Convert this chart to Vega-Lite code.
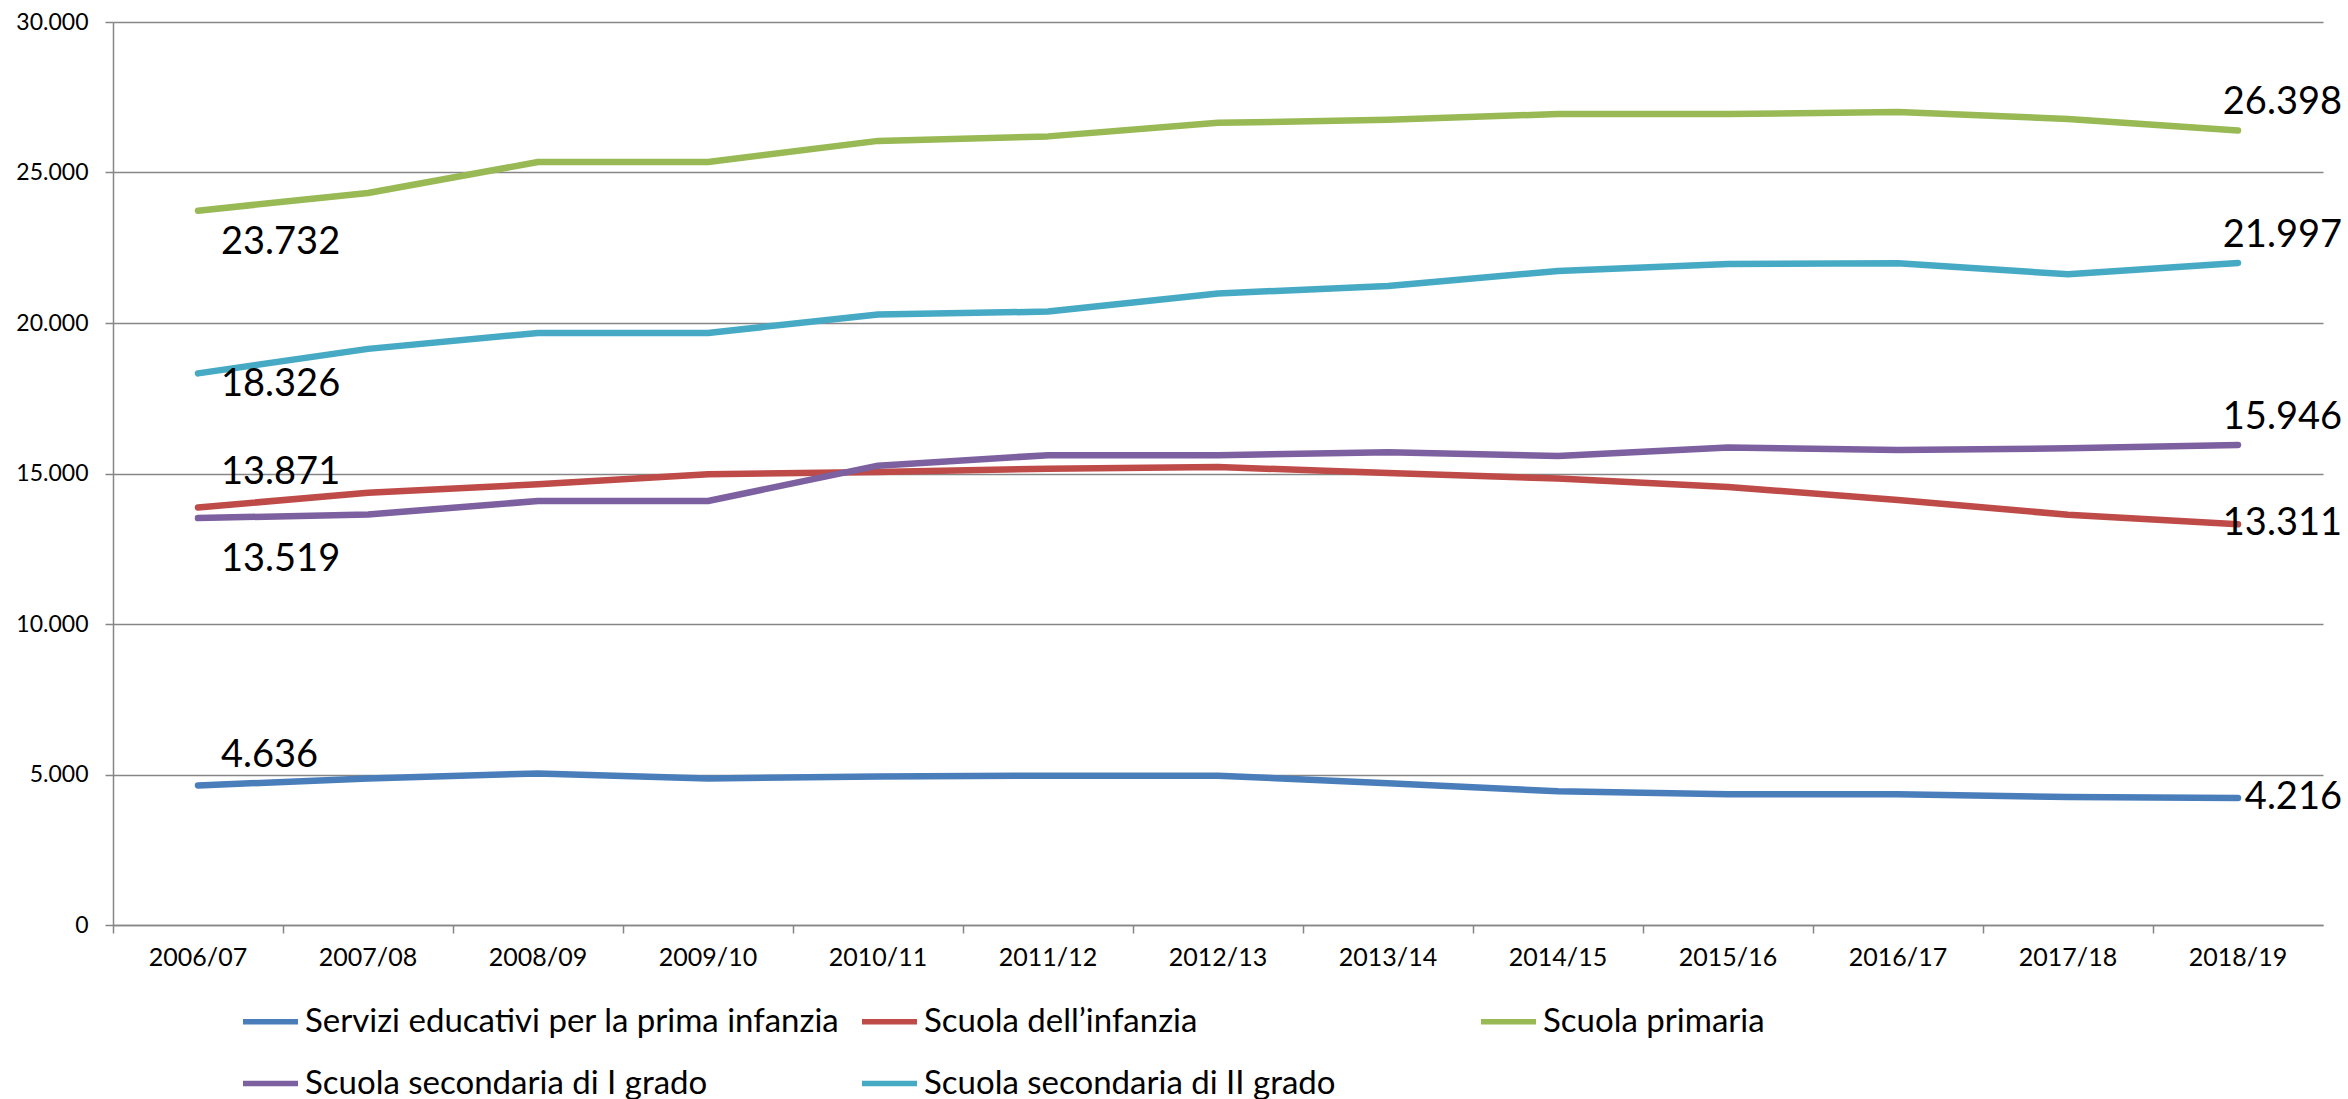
{
 "$schema": "https://vega.github.io/schema/vega-lite/v6.json",
 "width": 2210,
 "height": 903,
 "autosize": {"type": "none"},
 "padding": {"left": 113, "top": 22, "right": 25, "bottom": 174},
 "background": "white",
 "config": {
  "font": "Lato",
  "view": {"stroke": null},
  "locale": {"number": {"decimal": ",", "thousands": ".", "grouping": [3], "currency": ["", " €"]}}
 },
 "data": {"values": [
  {"year": "2006/07", "Servizi educativi per la prima infanzia": 4636, "Scuola dell’infanzia": 13871, "Scuola primaria": 23732, "Scuola secondaria di I grado": 13519, "Scuola secondaria di II grado": 18326},
  {"year": "2007/08", "Servizi educativi per la prima infanzia": 4870, "Scuola dell’infanzia": 14360, "Scuola primaria": 24319, "Scuola secondaria di I grado": 13640, "Scuola secondaria di II grado": 19140},
  {"year": "2008/09", "Servizi educativi per la prima infanzia": 5036, "Scuola dell’infanzia": 14640, "Scuola primaria": 25350, "Scuola secondaria di I grado": 14086, "Scuola secondaria di II grado": 19670},
  {"year": "2009/10", "Servizi educativi per la prima infanzia": 4870, "Scuola dell’infanzia": 14973, "Scuola primaria": 25350, "Scuola secondaria di I grado": 14086, "Scuola secondaria di II grado": 19670},
  {"year": "2010/11", "Servizi educativi per la prima infanzia": 4930, "Scuola dell’infanzia": 15050, "Scuola primaria": 26050, "Scuola secondaria di I grado": 15260, "Scuola secondaria di II grado": 20280},
  {"year": "2011/12", "Servizi educativi per la prima infanzia": 4960, "Scuola dell’infanzia": 15160, "Scuola primaria": 26200, "Scuola secondaria di I grado": 15610, "Scuola secondaria di II grado": 20380},
  {"year": "2012/13", "Servizi educativi per la prima infanzia": 4960, "Scuola dell’infanzia": 15215, "Scuola primaria": 26650, "Scuola secondaria di I grado": 15610, "Scuola secondaria di II grado": 20980},
  {"year": "2013/14", "Servizi educativi per la prima infanzia": 4710, "Scuola dell’infanzia": 15015, "Scuola primaria": 26750, "Scuola secondaria di I grado": 15710, "Scuola secondaria di II grado": 21230},
  {"year": "2014/15", "Servizi educativi per la prima infanzia": 4440, "Scuola dell’infanzia": 14830, "Scuola primaria": 26944, "Scuola secondaria di I grado": 15580, "Scuola secondaria di II grado": 21728},
  {"year": "2015/16", "Servizi educativi per la prima infanzia": 4340, "Scuola dell’infanzia": 14550, "Scuola primaria": 26944, "Scuola secondaria di I grado": 15860, "Scuola secondaria di II grado": 21960},
  {"year": "2016/17", "Servizi educativi per la prima infanzia": 4340, "Scuola dell’infanzia": 14120, "Scuola primaria": 27010, "Scuola secondaria di I grado": 15780, "Scuola secondaria di II grado": 21984},
  {"year": "2017/18", "Servizi educativi per la prima infanzia": 4250, "Scuola dell’infanzia": 13630, "Scuola primaria": 26777, "Scuola secondaria di I grado": 15835, "Scuola secondaria di II grado": 21618},
  {"year": "2018/19", "Servizi educativi per la prima infanzia": 4216, "Scuola dell’infanzia": 13311, "Scuola primaria": 26398, "Scuola secondaria di I grado": 15946, "Scuola secondaria di II grado": 21997}
 ]},
 "transform": [
  {"fold": ["Servizi educativi per la prima infanzia", "Scuola dell’infanzia", "Scuola primaria", "Scuola secondaria di I grado", "Scuola secondaria di II grado"], "as": ["series", "value"]}
 ],
 "encoding": {
  "x": {
   "field": "year", "type": "ordinal", "bandPosition": 0.5,
   "scale": {"type": "band", "paddingInner": 0, "paddingOuter": 0},
   "axis": {"title": null, "bandPosition": 0, "grid": false, "labelAngle": 0, "domainColor": "#868686", "domainWidth": 1.5, "tickColor": "#868686", "tickWidth": 1.5, "tickSize": 8, "labelFontSize": 25, "labelColor": "#000000", "labelPadding": 12}
  },
  "y": {
   "field": "value", "type": "quantitative",
   "scale": {"domain": [0, 30000]},
   "axis": {"title": null, "values": [0, 5000, 10000, 15000, 20000, 25000, 30000], "format": ",d", "grid": true, "gridColor": "#868686", "gridWidth": 1.5, "domainColor": "#868686", "domainWidth": 1.5, "tickColor": "#868686", "tickWidth": 1.5, "tickSize": 8, "labelFontSize": 23, "labelColor": "#000000", "labelPadding": 17}
  }
 },
 "layer": [
  {
   "mark": {"type": "line", "strokeWidth": 6.5, "strokeCap": "round", "strokeJoin": "round"},
   "encoding": {
    "color": {
     "field": "series", "type": "nominal",
     "scale": {"domain": ["Servizi educativi per la prima infanzia", "Scuola dell’infanzia", "Scuola primaria", "Scuola secondaria di I grado", "Scuola secondaria di II grado"], "range": ["#4A7EBB", "#BE4B48", "#98B954", "#7D60A0", "#46AAC5"]},
     "legend": {"title": null, "orient": "none", "legendX": 127, "legendY": 969, "direction": "horizontal", "columns": 3, "gridAlign": "all", "symbolType": "stroke", "symbolSize": 3025, "symbolStrokeWidth": 5.5, "labelFontSize": 33, "labelColor": "#000000", "labelOffset": 4, "columnPadding": 11, "rowPadding": 14, "labelLimit": 0}
    }
   }
  },
  {
   "transform": [{"filter": "datum.year == '2006/07' && datum.series == 'Scuola primaria'"}],
   "mark": {"type": "text", "align": "left", "baseline": "middle", "dx": 23, "dy": 32, "fontSize": 38, "color": "#000000"},
   "encoding": {"text": {"field": "value", "type": "quantitative", "format": ",d"}}
  },
  {
   "transform": [{"filter": "datum.year == '2006/07' && datum.series == 'Scuola secondaria di II grado'"}],
   "mark": {"type": "text", "align": "left", "baseline": "middle", "dx": 23, "dy": 12, "fontSize": 38, "color": "#000000"},
   "encoding": {"text": {"field": "value", "type": "quantitative", "format": ",d"}}
  },
  {
   "transform": [{"filter": "datum.year == '2006/07' && datum.series == 'Scuola dell’infanzia'"}],
   "mark": {"type": "text", "align": "left", "baseline": "middle", "dx": 23, "dy": -34, "fontSize": 38, "color": "#000000"},
   "encoding": {"text": {"field": "value", "type": "quantitative", "format": ",d"}}
  },
  {
   "transform": [{"filter": "datum.year == '2006/07' && datum.series == 'Scuola secondaria di I grado'"}],
   "mark": {"type": "text", "align": "left", "baseline": "middle", "dx": 23, "dy": 42, "fontSize": 38, "color": "#000000"},
   "encoding": {"text": {"field": "value", "type": "quantitative", "format": ",d"}}
  },
  {
   "transform": [{"filter": "datum.year == '2006/07' && datum.series == 'Servizi educativi per la prima infanzia'"}],
   "mark": {"type": "text", "align": "left", "baseline": "middle", "dx": 23, "dy": -29, "fontSize": 38, "color": "#000000"},
   "encoding": {"text": {"field": "value", "type": "quantitative", "format": ",d"}}
  },
  {
   "transform": [{"filter": "datum.year == '2018/19' && (datum.series == 'Scuola primaria' || datum.series == 'Scuola secondaria di II grado' || datum.series == 'Scuola secondaria di I grado')"}],
   "mark": {"type": "text", "align": "right", "baseline": "middle", "dx": 104, "dy": -27, "fontSize": 38, "color": "#000000"},
   "encoding": {"text": {"field": "value", "type": "quantitative", "format": ",d"}}
  },
  {
   "transform": [{"filter": "datum.year == '2018/19' && (datum.series == 'Scuola dell’infanzia' || datum.series == 'Servizi educativi per la prima infanzia')"}],
   "mark": {"type": "text", "align": "right", "baseline": "middle", "dx": 104, "dy": 0, "fontSize": 38, "color": "#000000"},
   "encoding": {"text": {"field": "value", "type": "quantitative", "format": ",d"}}
  }
 ]
}
